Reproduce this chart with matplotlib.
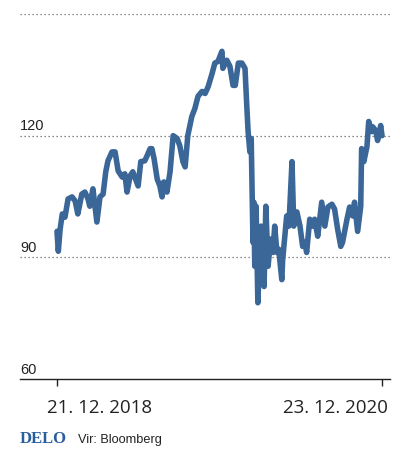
import matplotlib
matplotlib.use("Agg")
import matplotlib.pyplot as plt
import matplotlib.dates as mdates
import numpy as np
import pandas as pd

dates = [
    "2018-12-21", "2018-12-24", "2018-12-28", "2019-01-02", "2019-01-08", "2019-01-15",
    "2019-01-24", "2019-01-31", "2019-02-06", "2019-02-15", "2019-02-22", "2019-03-01",
    "2019-03-05", "2019-03-12", "2019-03-21", "2019-03-28", "2019-04-04", "2019-04-10",
    "2019-04-15", "2019-04-24", "2019-05-01", "2019-05-08", "2019-05-17", "2019-05-23",
    "2019-05-28", "2019-06-04", "2019-06-10", "2019-06-22", "2019-06-28", "2019-07-07",
    "2019-07-12", "2019-07-19", "2019-07-23", "2019-07-28", "2019-08-04", "2019-08-10",
    "2019-08-15", "2019-08-19", "2019-08-26", "2019-09-02", "2019-09-09", "2019-09-18",
    "2019-09-24", "2019-10-01", "2019-10-06", "2019-10-12", "2019-10-21", "2019-10-28",
    "2019-11-04", "2019-11-13", "2019-11-20", "2019-11-27", "2019-12-06", "2019-12-12",
    "2019-12-19", "2019-12-28", "2019-12-30", "2020-01-08", "2020-01-15", "2020-01-22",
    "2020-01-27", "2020-02-03", "2020-02-11", "2020-02-18", "2020-02-22", "2020-02-25",
    "2020-02-29", "2020-03-03", "2020-03-07", "2020-03-09", "2020-03-11", "2020-03-14",
    "2020-03-18", "2020-03-25", "2020-03-27", "2020-04-01", "2020-04-05", "2020-04-10",
    "2020-04-16", "2020-04-21", "2020-04-25", "2020-04-30", "2020-05-04", "2020-05-11",
    "2020-05-13", "2020-05-22", "2020-05-27", "2020-06-03", "2020-06-07", "2020-06-14",
    "2020-06-21", "2020-06-27", "2020-07-02", "2020-07-06", "2020-07-13", "2020-07-20",
    "2020-07-24", "2020-07-31", "2020-08-09", "2020-08-16", "2020-08-23", "2020-09-01",
    "2020-09-07", "2020-09-14", "2020-09-21", "2020-09-25", "2020-10-05", "2020-10-11",
    "2020-10-18", "2020-10-22", "2020-10-29", "2020-11-05", "2020-11-07", "2020-11-12",
    "2020-11-19", "2020-11-23", "2020-11-30", "2020-12-02", "2020-12-09", "2020-12-13",
    "2020-12-20", "2020-12-23",
]
values = [
    96.4, 91.5, 96.9, 100.7, 99.9, 104.4,
    104.9, 103.9, 100.7, 105.6, 106.1, 104.4,
    102.6, 106.9, 98.7, 104.9, 105.6, 111.1,
    113.8, 116.0, 116.0, 111.3, 109.8, 110.6,
    106.1, 110.1, 111.1, 107.6, 113.6, 113.8,
    115.0, 116.8, 116.8, 114.3, 109.3, 107.6,
    104.9, 108.6, 106.1, 111.1, 120.0, 119.3,
    117.5, 113.6, 112.3, 120.0, 124.7, 126.7,
    129.7, 130.9, 130.4, 132.1, 135.4, 137.9,
    138.3, 140.8, 136.6, 138.6, 137.1, 132.4,
    132.4, 137.9, 137.9, 136.6, 127.4, 121.0,
    116.0, 119.3, 93.7, 103.6, 87.8, 102.6,
    78.8, 97.7, 89.5, 82.8, 102.6, 87.8,
    94.5, 91.2, 97.7, 91.2, 92.0, 84.5,
    89.5, 100.2, 97.7, 113.6, 97.7, 101.2,
    97.7, 92.7, 93.7, 91.2, 99.4, 97.7,
    99.4, 95.2, 103.6, 97.7, 102.4, 103.1,
    101.9, 96.9, 92.7, 93.7, 99.4, 102.4,
    100.2, 103.6, 96.4, 102.6, 116.8, 113.6,
    117.3, 123.5, 121.0, 122.2, 121.2, 118.8,
    122.5, 120.0,
]
grid_values = [90, 120, 150]
label_values = [60, 90, 120]
x_tick_dates = ["2018-12-21", "2020-12-23"]
x_tick_labels = ["21. 12. 2018", "23. 12. 2020"]

LINE = "#3b6698"
FONT = ["Open Sans", "DejaVu Sans"]
NARROW = ["Liberation Sans Narrow", "Liberation Sans", "DejaVu Sans"]

d = mdates.date2num(pd.to_datetime(dates).to_pydatetime())
xt = mdates.date2num(pd.to_datetime(x_tick_dates).to_pydatetime())

fig = plt.figure(figsize=(4.10, 4.52), dpi=100)
ax = fig.add_axes([20 / 410, 1 - 380 / 452, 370 / 410, 365 / 452])

t0 = xt[0]
ax.set_xlim(t0 - 83.4, t0 + 751)
ax.set_ylim(60, 150)

for g in grid_values:
    ax.axhline(g, color="#666666", lw=0.9, ls=(0, (1, 2.2)), zorder=1)

ax.plot(d, values, color=LINE, lw=4.0, solid_joinstyle="round",
        solid_capstyle="round", zorder=3, clip_on=False)

for s in ["top", "left", "right"]:
    ax.spines[s].set_visible(False)
ax.spines["bottom"].set_color("#222222")
ax.spines["bottom"].set_linewidth(1.0)

ax.set_yticks([])
ax.set_xticks(xt)
ax.set_xticklabels([])
ax.tick_params(axis="x", length=5, width=1, color="#222222")

ytr = ax.get_yaxis_transform()
for v in label_values:
    ax.annotate(str(v), xy=(0, v), xycoords=ytr, xytext=(0, 4.5),
                textcoords="offset points", ha="left", va="baseline",
                fontsize=10.5, family=NARROW, color="#222222")

xtr = ax.get_xaxis_transform()
ax.annotate(x_tick_labels[0], xy=(xt[0], 0), xycoords=xtr, xytext=(-7.5, -24),
            textcoords="offset points", ha="left", va="baseline",
            fontsize=13.5, family=FONT, color="#222222")
ax.annotate(x_tick_labels[1], xy=(xt[1], 0), xycoords=xtr, xytext=(4.5, -24),
            textcoords="offset points", ha="right", va="baseline",
            fontsize=13.5, family=FONT, color="#222222")

fig.text(20 / 410, 1 - 443 / 452, "DELO", family=["Liberation Serif", "DejaVu Serif"],
         fontweight="bold", fontsize=12, color="#2a5d9c", ha="left", va="baseline")
fig.text(78 / 410, 1 - 443 / 452, "Vir: Bloomberg", family=NARROW,
         fontsize=9.2, color="#222222", ha="left", va="baseline")

fig.savefig("out.png", dpi=100)
